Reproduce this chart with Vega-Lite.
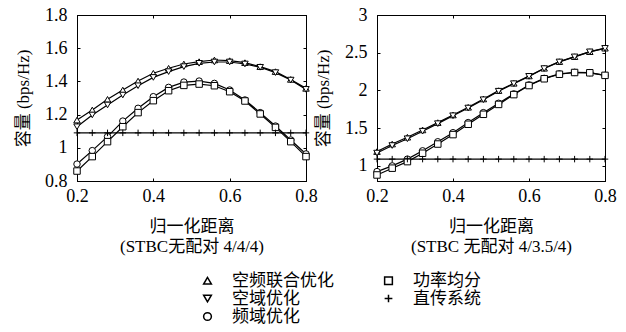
{
  "$schema": "https://vega.github.io/schema/vega-lite/v6.json",
  "padding": {"left": 14, "top": 5, "right": 5, "bottom": 5},
  "background": "white",
  "config": {
    "font": "'Liberation Serif', 'Noto Sans CJK SC', serif",
    "view": {"stroke": "black", "strokeWidth": 1},
    "axis": {
      "domainColor": "black", "tickColor": "black", "labelColor": "black", "titleColor": "black",
      "labelFont": "'Liberation Serif', 'Noto Sans CJK SC', serif", "titleFont": "'Liberation Serif', 'Noto Sans CJK SC', serif",
      "labelFontSize": 18, "titleFontSize": 17, "titleFontWeight": "normal",
      "grid": false, "tickSize": -3, "labelFlush": false,
      "domainWidth": 1, "tickWidth": 1
    },
    "axisX": {"labelPadding": 9},
    "axisY": {"labelPadding": 13},
    "legend": {
      "labelFont": "'Liberation Serif', 'Noto Sans CJK SC', serif", "labelFontSize": 17, "labelColor": "black"
    }
  },
  "datasets": {
    "left": [
      {"x": 0.2, "y": 1.167, "s": "空频联合优化"}, {"x": 0.24, "y": 1.228, "s": "空频联合优化"}, {"x": 0.28, "y": 1.292, "s": "空频联合优化"}, {"x": 0.32, "y": 1.348, "s": "空频联合优化"},
      {"x": 0.36, "y": 1.402, "s": "空频联合优化"}, {"x": 0.4, "y": 1.449, "s": "空频联合优化"}, {"x": 0.44, "y": 1.479, "s": "空频联合优化"}, {"x": 0.48, "y": 1.505, "s": "空频联合优化"},
      {"x": 0.52, "y": 1.519, "s": "空频联合优化"}, {"x": 0.56, "y": 1.529, "s": "空频联合优化"}, {"x": 0.6, "y": 1.525, "s": "空频联合优化"}, {"x": 0.64, "y": 1.513, "s": "空频联合优化"},
      {"x": 0.68, "y": 1.489, "s": "空频联合优化"}, {"x": 0.72, "y": 1.459, "s": "空频联合优化"}, {"x": 0.76, "y": 1.412, "s": "空频联合优化"}, {"x": 0.8, "y": 1.358, "s": "空频联合优化"},
      {"x": 0.2, "y": 1.127, "s": "空域优化"}, {"x": 0.24, "y": 1.198, "s": "空域优化"}, {"x": 0.28, "y": 1.258, "s": "空域优化"}, {"x": 0.32, "y": 1.318, "s": "空域优化"},
      {"x": 0.36, "y": 1.374, "s": "空域优化"}, {"x": 0.4, "y": 1.424, "s": "空域优化"}, {"x": 0.44, "y": 1.459, "s": "空域优化"}, {"x": 0.48, "y": 1.489, "s": "空域优化"},
      {"x": 0.52, "y": 1.509, "s": "空域优化"}, {"x": 0.56, "y": 1.517, "s": "空域优化"}, {"x": 0.6, "y": 1.517, "s": "空域优化"}, {"x": 0.64, "y": 1.505, "s": "空域优化"},
      {"x": 0.68, "y": 1.485, "s": "空域优化"}, {"x": 0.72, "y": 1.453, "s": "空域优化"}, {"x": 0.76, "y": 1.408, "s": "空域优化"}, {"x": 0.8, "y": 1.352, "s": "空域优化"},
      {"x": 0.2, "y": 0.902, "s": "频域优化"}, {"x": 0.24, "y": 0.983, "s": "频域优化"}, {"x": 0.28, "y": 1.067, "s": "频域优化"}, {"x": 0.32, "y": 1.161, "s": "频域优化"},
      {"x": 0.36, "y": 1.238, "s": "频域优化"}, {"x": 0.4, "y": 1.308, "s": "频域优化"}, {"x": 0.44, "y": 1.364, "s": "频域优化"}, {"x": 0.48, "y": 1.396, "s": "频域优化"},
      {"x": 0.52, "y": 1.402, "s": "频域优化"}, {"x": 0.56, "y": 1.388, "s": "频域优化"}, {"x": 0.6, "y": 1.348, "s": "频域优化"}, {"x": 0.64, "y": 1.288, "s": "频域优化"},
      {"x": 0.68, "y": 1.212, "s": "频域优化"}, {"x": 0.72, "y": 1.131, "s": "频域优化"}, {"x": 0.76, "y": 1.047, "s": "频域优化"}, {"x": 0.8, "y": 0.963, "s": "频域优化"},
      {"x": 0.2, "y": 0.86, "s": "功率均分"}, {"x": 0.24, "y": 0.947, "s": "功率均分"}, {"x": 0.28, "y": 1.037, "s": "功率均分"}, {"x": 0.32, "y": 1.127, "s": "功率均分"},
      {"x": 0.36, "y": 1.212, "s": "功率均分"}, {"x": 0.4, "y": 1.284, "s": "功率均分"}, {"x": 0.44, "y": 1.344, "s": "功率均分"}, {"x": 0.48, "y": 1.376, "s": "功率均分"},
      {"x": 0.52, "y": 1.384, "s": "功率均分"}, {"x": 0.56, "y": 1.374, "s": "功率均分"}, {"x": 0.6, "y": 1.338, "s": "功率均分"}, {"x": 0.64, "y": 1.282, "s": "功率均分"},
      {"x": 0.68, "y": 1.204, "s": "功率均分"}, {"x": 0.72, "y": 1.123, "s": "功率均分"}, {"x": 0.76, "y": 1.037, "s": "功率均分"}, {"x": 0.8, "y": 0.947, "s": "功率均分"},
      {"x": 0.2, "y": 1.09, "s": "直传系统"}, {"x": 0.24, "y": 1.09, "s": "直传系统"}, {"x": 0.28, "y": 1.09, "s": "直传系统"}, {"x": 0.32, "y": 1.09, "s": "直传系统"},
      {"x": 0.36, "y": 1.09, "s": "直传系统"}, {"x": 0.4, "y": 1.09, "s": "直传系统"}, {"x": 0.44, "y": 1.09, "s": "直传系统"}, {"x": 0.48, "y": 1.09, "s": "直传系统"},
      {"x": 0.52, "y": 1.09, "s": "直传系统"}, {"x": 0.56, "y": 1.09, "s": "直传系统"}, {"x": 0.6, "y": 1.09, "s": "直传系统"}, {"x": 0.64, "y": 1.09, "s": "直传系统"},
      {"x": 0.68, "y": 1.09, "s": "直传系统"}, {"x": 0.72, "y": 1.09, "s": "直传系统"}, {"x": 0.76, "y": 1.09, "s": "直传系统"}, {"x": 0.8, "y": 1.09, "s": "直传系统"}
    ],
    "right": [
      {"x": 0.2, "y": 1.19, "s": "空频联合优化"}, {"x": 0.24, "y": 1.29, "s": "空频联合优化"}, {"x": 0.28, "y": 1.38, "s": "空频联合优化"}, {"x": 0.32, "y": 1.477, "s": "空频联合优化"},
      {"x": 0.36, "y": 1.574, "s": "空频联合优化"}, {"x": 0.4, "y": 1.675, "s": "空频联合优化"}, {"x": 0.44, "y": 1.777, "s": "空频联合优化"}, {"x": 0.48, "y": 1.887, "s": "空频联合优化"},
      {"x": 0.52, "y": 1.998, "s": "空频联合优化"}, {"x": 0.56, "y": 2.095, "s": "空频联合优化"}, {"x": 0.6, "y": 2.192, "s": "空频联合优化"}, {"x": 0.64, "y": 2.294, "s": "空频联合优化"},
      {"x": 0.68, "y": 2.382, "s": "空频联合优化"}, {"x": 0.72, "y": 2.448, "s": "空频联合优化"}, {"x": 0.76, "y": 2.514, "s": "空频联合优化"}, {"x": 0.8, "y": 2.56, "s": "空频联合优化"},
      {"x": 0.2, "y": 1.17, "s": "空域优化"}, {"x": 0.24, "y": 1.27, "s": "空域优化"}, {"x": 0.28, "y": 1.36, "s": "空域优化"}, {"x": 0.32, "y": 1.46, "s": "空域优化"},
      {"x": 0.36, "y": 1.56, "s": "空域优化"}, {"x": 0.4, "y": 1.665, "s": "空域优化"}, {"x": 0.44, "y": 1.767, "s": "空域优化"}, {"x": 0.48, "y": 1.877, "s": "空域优化"},
      {"x": 0.52, "y": 1.99, "s": "空域优化"}, {"x": 0.56, "y": 2.09, "s": "空域优化"}, {"x": 0.6, "y": 2.187, "s": "空域优化"}, {"x": 0.64, "y": 2.29, "s": "空域优化"},
      {"x": 0.68, "y": 2.378, "s": "空域优化"}, {"x": 0.72, "y": 2.445, "s": "空域优化"}, {"x": 0.76, "y": 2.512, "s": "空域优化"}, {"x": 0.8, "y": 2.558, "s": "空域优化"},
      {"x": 0.2, "y": 0.925, "s": "频域优化"}, {"x": 0.24, "y": 1.0, "s": "频域优化"}, {"x": 0.28, "y": 1.09, "s": "频域优化"}, {"x": 0.32, "y": 1.2, "s": "频域优化"},
      {"x": 0.36, "y": 1.32, "s": "频域优化"}, {"x": 0.4, "y": 1.44, "s": "频域优化"}, {"x": 0.44, "y": 1.574, "s": "频域优化"}, {"x": 0.48, "y": 1.706, "s": "频域优化"},
      {"x": 0.52, "y": 1.83, "s": "频域优化"}, {"x": 0.56, "y": 1.954, "s": "频域优化"}, {"x": 0.6, "y": 2.073, "s": "频域优化"}, {"x": 0.64, "y": 2.16, "s": "频域优化"},
      {"x": 0.68, "y": 2.219, "s": "频域优化"}, {"x": 0.72, "y": 2.24, "s": "频域优化"}, {"x": 0.76, "y": 2.236, "s": "频域优化"}, {"x": 0.8, "y": 2.2, "s": "频域优化"},
      {"x": 0.2, "y": 0.88, "s": "功率均分"}, {"x": 0.24, "y": 0.97, "s": "功率均分"}, {"x": 0.28, "y": 1.057, "s": "功率均分"}, {"x": 0.32, "y": 1.168, "s": "功率均分"},
      {"x": 0.36, "y": 1.29, "s": "功率均分"}, {"x": 0.4, "y": 1.415, "s": "功率均分"}, {"x": 0.44, "y": 1.552, "s": "功率均分"}, {"x": 0.48, "y": 1.684, "s": "功率均分"},
      {"x": 0.52, "y": 1.815, "s": "功率均分"}, {"x": 0.56, "y": 1.945, "s": "功率均分"}, {"x": 0.6, "y": 2.065, "s": "功率均分"}, {"x": 0.64, "y": 2.155, "s": "功率均分"},
      {"x": 0.68, "y": 2.215, "s": "功率均分"}, {"x": 0.72, "y": 2.238, "s": "功率均分"}, {"x": 0.76, "y": 2.234, "s": "功率均分"}, {"x": 0.8, "y": 2.2, "s": "功率均分"},
      {"x": 0.2, "y": 1.09, "s": "直传系统"}, {"x": 0.24, "y": 1.09, "s": "直传系统"}, {"x": 0.28, "y": 1.09, "s": "直传系统"}, {"x": 0.32, "y": 1.09, "s": "直传系统"},
      {"x": 0.36, "y": 1.09, "s": "直传系统"}, {"x": 0.4, "y": 1.09, "s": "直传系统"}, {"x": 0.44, "y": 1.09, "s": "直传系统"}, {"x": 0.48, "y": 1.09, "s": "直传系统"},
      {"x": 0.52, "y": 1.09, "s": "直传系统"}, {"x": 0.56, "y": 1.09, "s": "直传系统"}, {"x": 0.6, "y": 1.09, "s": "直传系统"}, {"x": 0.64, "y": 1.09, "s": "直传系统"},
      {"x": 0.68, "y": 1.09, "s": "直传系统"}, {"x": 0.72, "y": 1.09, "s": "直传系统"}, {"x": 0.76, "y": 1.09, "s": "直传系统"}, {"x": 0.8, "y": 1.09, "s": "直传系统"}
    ]
  },
  "spacing": 71,
  "bounds": "flush",
  "resolve": {"scale": {"shape": "independent"}, "legend": {"shape": "independent"}},
  "hconcat": [
    {
      "width": 229, "height": 166,
      "data": {"name": "left"},
      "resolve": {"axis": {"x": "independent", "y": "independent"}},
      "layer": [
        {
          "mark": {"type": "line", "color": "black", "strokeWidth": 1.2},
          "encoding": {
            "x": {"field": "x", "type": "quantitative", "scale": {"domain": [0.2, 0.8], "nice": false},
                  "axis": {"values": [0.2, 0.4, 0.6, 0.8], "format": ".1f", "title": ["归一化距离", "(STBC无配对 4/4/4)"], "titlePadding": 13, "titleLineHeight": 20}},
            "y": {"field": "y", "type": "quantitative", "scale": {"domain": [0.8, 1.8], "nice": false, "zero": false},
                  "axis": {"values": [0.8, 1, 1.2, 1.4, 1.6, 1.8], "format": ".2~f", "title": "容量 (bps/Hz)", "titlePadding": 12}},
            "detail": {"field": "s"}
          }
        },
        {
          "mark": {"type": "point", "filled": true, "fill": "white", "stroke": "black", "strokeWidth": 1, "size": 42, "opacity": 1},
          "encoding": {
            "x": {"field": "x", "type": "quantitative", "axis": null},
            "y": {"field": "y", "type": "quantitative", "axis": null},
            "shape": {"field": "s", "scale": {
              "domain": ["空频联合优化", "空域优化", "频域优化", "功率均分", "直传系统"],
              "range": ["triangle-up", "triangle-down", "circle", "square", "M-1,0H1M0,-1V1"]},
              "legend": {"orient": "none", "legendX": 122, "legendY": 257, "columns": 2, "columnPadding": 46, "rowPadding": 0, "labelOffset": 16, "symbolSize": 60, "title": null}}
          }
        },
        {
          "mark": {"type": "point", "opacity": 0},
          "encoding": {
            "x": {"field": "x", "type": "quantitative", "axis": {"orient": "top", "values": [0.2, 0.4, 0.6, 0.8], "labels": false, "title": null}},
            "y": {"field": "y", "type": "quantitative", "axis": {"orient": "right", "values": [0.8, 1, 1.2, 1.4, 1.6, 1.8], "labels": false, "title": null}}
          }
        }
      ]
    },
    {
      "width": 228, "height": 166,
      "data": {"name": "right"},
      "resolve": {"axis": {"x": "independent", "y": "independent"}},
      "layer": [
        {
          "mark": {"type": "line", "color": "black", "strokeWidth": 1.2},
          "encoding": {
            "x": {"field": "x", "type": "quantitative", "scale": {"domain": [0.2, 0.8], "nice": false},
                  "axis": {"values": [0.2, 0.4, 0.6, 0.8], "format": ".1f", "title": ["归一化距离", "(STBC 无配对 4/3.5/4)"], "titlePadding": 13, "titleLineHeight": 20}},
            "y": {"field": "y", "type": "quantitative", "scale": {"domain": [0.8, 3], "nice": false, "zero": false},
                  "axis": {"values": [1, 1.5, 2, 2.5, 3], "format": ".2~f", "title": "容量 (bps/Hz)", "titlePadding": 12}},
            "detail": {"field": "s"}
          }
        },
        {
          "mark": {"type": "point", "filled": true, "fill": "white", "stroke": "black", "strokeWidth": 1, "size": 42, "opacity": 1},
          "encoding": {
            "x": {"field": "x", "type": "quantitative", "axis": null},
            "y": {"field": "y", "type": "quantitative", "axis": null},
            "shape": {"field": "s", "legend": null, "scale": {
              "domain": ["空频联合优化", "空域优化", "频域优化", "功率均分", "直传系统"],
              "range": ["triangle-up", "triangle-down", "circle", "square", "M-1,0H1M0,-1V1"]}}
          }
        },
        {
          "mark": {"type": "point", "opacity": 0},
          "encoding": {
            "x": {"field": "x", "type": "quantitative", "axis": {"orient": "top", "values": [0.2, 0.4, 0.6, 0.8], "labels": false, "title": null}},
            "y": {"field": "y", "type": "quantitative", "axis": {"orient": "right", "values": [1, 1.5, 2, 2.5, 3], "labels": false, "title": null}}
          }
        }
      ]
    }
  ]
}
